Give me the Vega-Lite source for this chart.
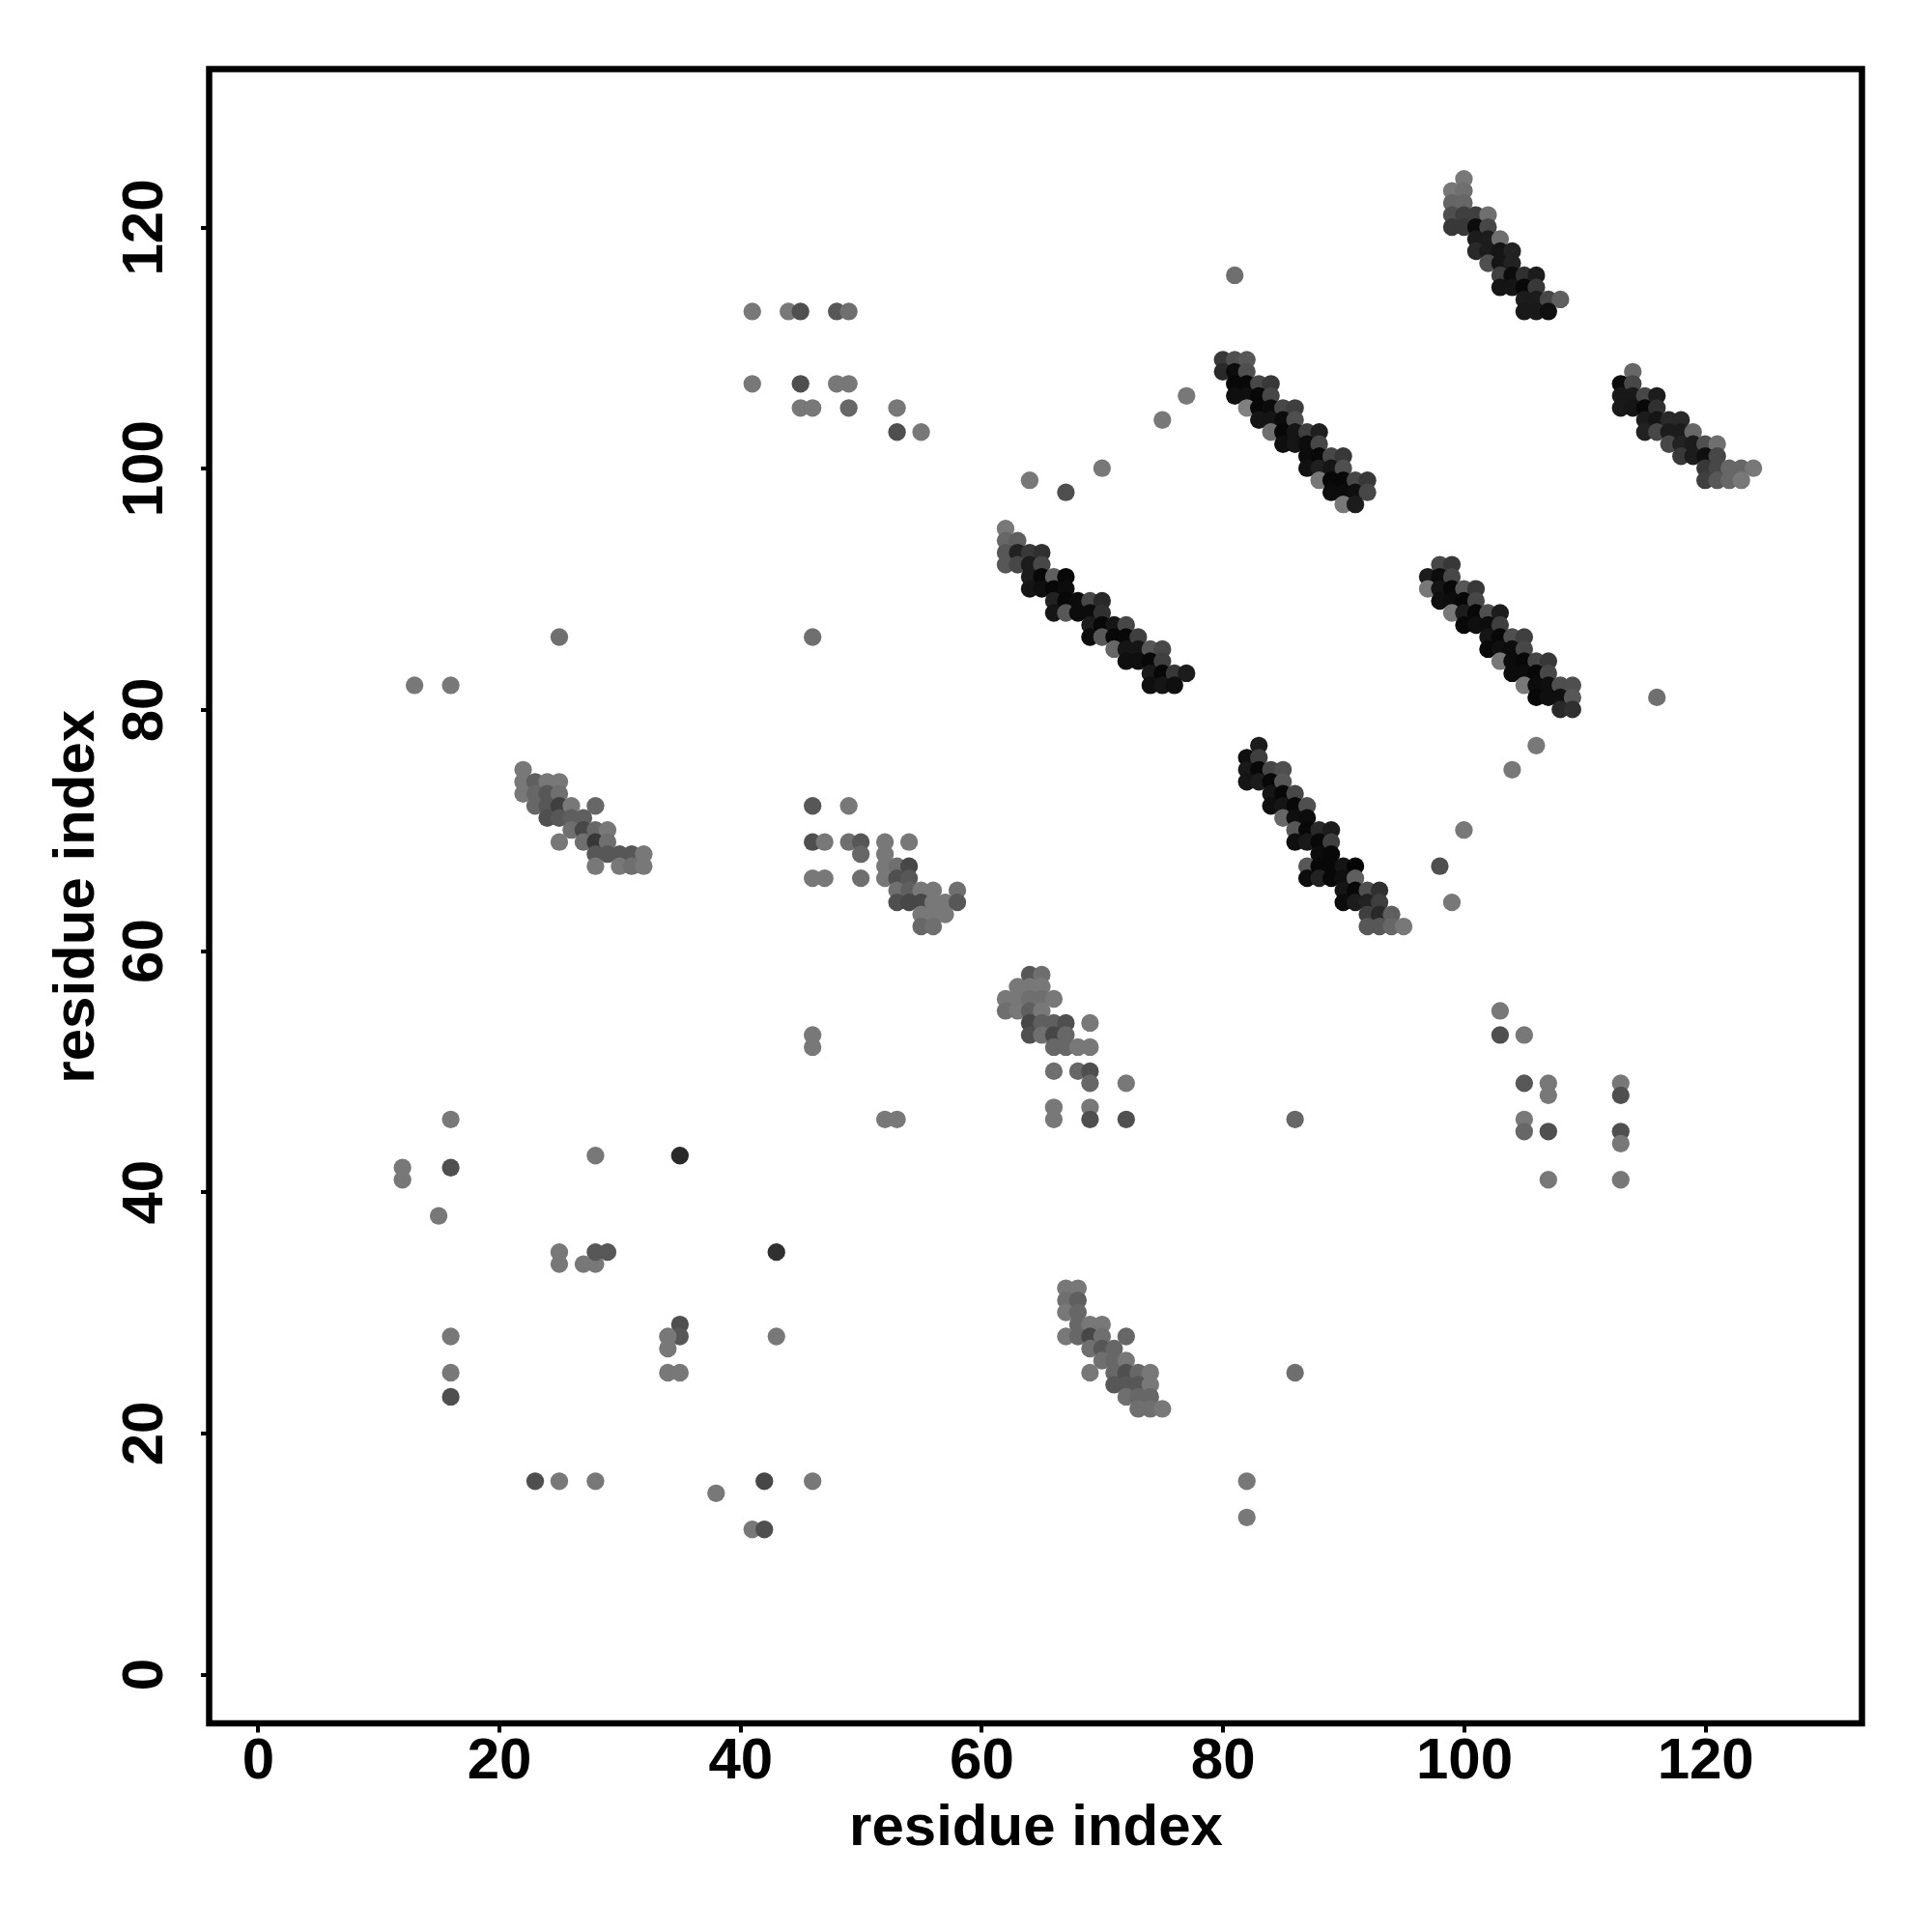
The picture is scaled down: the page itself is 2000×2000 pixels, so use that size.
{"$schema":"https://vega.github.io/schema/vega-lite/v6.json","width":1711,"height":1712.5,"autosize":"none","padding":{"left":216.5,"top":71.5,"right":72.5,"bottom":216},"background":"white","config":{"view":{"stroke":"#000000","strokeWidth":6.5,"fill":"white"}},
"data":{"values":[
{"i":100,"j":124,"s":8},{"i":99,"j":123,"s":8},{"i":100,"j":123,"s":16},{"i":99,"j":122,"s":26},{"i":100,"j":122,"s":24},{"i":99,"j":121,"s":48},{"i":100,"j":121,"s":64},{"i":101,"j":121,"s":64},{"i":102,"j":121,"s":16},{"i":99,"j":120,"s":72},{"i":100,"j":120,"s":72},{"i":101,"j":120,"s":120},{"i":102,"j":120,"s":56},{"i":101,"j":119,"s":104},{"i":102,"j":119,"s":104},{"i":103,"j":119,"s":16},{"i":101,"j":118,"s":88},{"i":102,"j":118,"s":104},{"i":103,"j":118,"s":112},{"i":104,"j":118,"s":96},{"i":102,"j":117,"s":48},{"i":103,"j":117,"s":112},{"i":104,"j":117,"s":96},{"i":103,"j":116,"s":64},{"i":104,"j":116,"s":120},{"i":105,"j":116,"s":80},{"i":106,"j":116,"s":104},{"i":103,"j":115,"s":112},{"i":104,"j":115,"s":112},{"i":105,"j":115,"s":123},{"i":106,"j":115,"s":72},{"i":105,"j":114,"s":104},{"i":106,"j":114,"s":104},{"i":107,"j":114,"s":56},{"i":108,"j":114,"s":32},{"i":105,"j":113,"s":107},{"i":106,"j":113,"s":107},{"i":107,"j":113,"s":118},
{"i":80,"j":109,"s":72},{"i":81,"j":109,"s":48},{"i":82,"j":109,"s":40},{"i":80,"j":108,"s":88},{"i":81,"j":108,"s":120},{"i":82,"j":108,"s":48},{"i":81,"j":107,"s":123},{"i":82,"j":107,"s":123},{"i":83,"j":107,"s":56},{"i":84,"j":107,"s":72},{"i":81,"j":106,"s":118},{"i":82,"j":106,"s":118},{"i":83,"j":106,"s":123},{"i":84,"j":106,"s":56},{"i":82,"j":105,"s":0},{"i":83,"j":105,"s":123},{"i":84,"j":105,"s":120},{"i":85,"j":105,"s":56},{"i":86,"j":105,"s":64},{"i":83,"j":104,"s":112},{"i":84,"j":104,"s":112},{"i":85,"j":104,"s":120},{"i":86,"j":104,"s":48},{"i":84,"j":103,"s":16},{"i":85,"j":103,"s":123},{"i":86,"j":103,"s":112},{"i":87,"j":103,"s":64},{"i":88,"j":103,"s":100},{"i":85,"j":102,"s":118},{"i":86,"j":102,"s":112},{"i":87,"j":102,"s":120},{"i":88,"j":102,"s":56},{"i":87,"j":101,"s":120},{"i":88,"j":101,"s":123},{"i":89,"j":101,"s":56},{"i":90,"j":101,"s":72},{"i":87,"j":100,"s":116},{"i":88,"j":100,"s":100},{"i":89,"j":100,"s":112},{"i":90,"j":100,"s":48},{"i":88,"j":99,"s":8},{"i":89,"j":99,"s":123},{"i":90,"j":99,"s":123},{"i":91,"j":99,"s":56},{"i":92,"j":99,"s":72},{"i":89,"j":98,"s":120},{"i":90,"j":98,"s":120},{"i":91,"j":98,"s":118},{"i":92,"j":98,"s":56},{"i":90,"j":97,"s":8},{"i":91,"j":97,"s":104},
{"i":114,"j":108,"s":24},{"i":113,"j":107,"s":120},{"i":114,"j":107,"s":56},{"i":113,"j":106,"s":107},{"i":114,"j":106,"s":107},{"i":115,"j":106,"s":56},{"i":116,"j":106,"s":102},{"i":113,"j":105,"s":107},{"i":114,"j":105,"s":112},{"i":115,"j":105,"s":123},{"i":116,"j":105,"s":80},{"i":115,"j":104,"s":104},{"i":116,"j":104,"s":112},{"i":117,"j":104,"s":88},{"i":118,"j":104,"s":88},{"i":115,"j":103,"s":96},{"i":116,"j":103,"s":56},{"i":117,"j":103,"s":104},{"i":118,"j":103,"s":104},{"i":119,"j":103,"s":24},{"i":117,"j":102,"s":56},{"i":118,"j":102,"s":96},{"i":119,"j":102,"s":104},{"i":120,"j":102,"s":48},{"i":121,"j":102,"s":16},{"i":118,"j":101,"s":72},{"i":119,"j":101,"s":104},{"i":120,"j":101,"s":118},{"i":121,"j":101,"s":56},{"i":120,"j":100,"s":72},{"i":121,"j":100,"s":56},{"i":122,"j":100,"s":24},{"i":123,"j":100,"s":24},{"i":124,"j":100,"s":8},{"i":120,"j":99,"s":64},{"i":121,"j":99,"s":40},{"i":122,"j":99,"s":24},{"i":123,"j":99,"s":8},
{"i":62,"j":95,"s":8},{"i":62,"j":94,"s":24},{"i":63,"j":94,"s":32},{"i":62,"j":93,"s":40},{"i":63,"j":93,"s":96},{"i":64,"j":93,"s":72},{"i":65,"j":93,"s":80},{"i":62,"j":92,"s":40},{"i":63,"j":92,"s":56},{"i":64,"j":92,"s":104},{"i":65,"j":92,"s":56},{"i":64,"j":91,"s":104},{"i":65,"j":91,"s":123},{"i":66,"j":91,"s":32},{"i":67,"j":91,"s":123},{"i":64,"j":90,"s":112},{"i":65,"j":90,"s":118},{"i":66,"j":90,"s":123},{"i":67,"j":90,"s":120},{"i":66,"j":89,"s":96},{"i":67,"j":89,"s":123},{"i":68,"j":89,"s":120},{"i":69,"j":89,"s":56},{"i":70,"j":89,"s":88},{"i":66,"j":88,"s":112},{"i":67,"j":88,"s":40},{"i":68,"j":88,"s":120},{"i":69,"j":88,"s":120},{"i":70,"j":88,"s":80},{"i":69,"j":87,"s":104},{"i":70,"j":87,"s":123},{"i":71,"j":87,"s":112},{"i":72,"j":87,"s":56},{"i":69,"j":86,"s":120},{"i":70,"j":86,"s":40},{"i":71,"j":86,"s":123},{"i":72,"j":86,"s":123},{"i":73,"j":86,"s":64},{"i":71,"j":85,"s":24},{"i":72,"j":85,"s":112},{"i":73,"j":85,"s":112},{"i":74,"j":85,"s":40},{"i":75,"j":85,"s":56},{"i":72,"j":84,"s":118},{"i":73,"j":84,"s":118},{"i":74,"j":84,"s":123},{"i":75,"j":84,"s":64},{"i":74,"j":83,"s":107},{"i":75,"j":83,"s":123},{"i":76,"j":83,"s":72},{"i":77,"j":83,"s":104},{"i":74,"j":82,"s":118},{"i":75,"j":82,"s":112},{"i":76,"j":82,"s":118},
{"i":98,"j":92,"s":56},{"i":99,"j":92,"s":72},{"i":97,"j":91,"s":104},{"i":98,"j":91,"s":120},{"i":99,"j":91,"s":56},{"i":97,"j":90,"s":8},{"i":98,"j":90,"s":112},{"i":99,"j":90,"s":123},{"i":100,"j":90,"s":40},{"i":101,"j":90,"s":72},{"i":98,"j":89,"s":118},{"i":99,"j":89,"s":120},{"i":100,"j":89,"s":123},{"i":101,"j":89,"s":56},{"i":99,"j":88,"s":8},{"i":100,"j":88,"s":104},{"i":101,"j":88,"s":123},{"i":102,"j":88,"s":48},{"i":103,"j":88,"s":104},{"i":100,"j":87,"s":123},{"i":101,"j":87,"s":118},{"i":102,"j":87,"s":120},{"i":103,"j":87,"s":64},{"i":102,"j":86,"s":112},{"i":103,"j":86,"s":123},{"i":104,"j":86,"s":48},{"i":105,"j":86,"s":64},{"i":102,"j":85,"s":123},{"i":103,"j":85,"s":118},{"i":104,"j":85,"s":120},{"i":105,"j":85,"s":56},{"i":103,"j":84,"s":8},{"i":104,"j":84,"s":120},{"i":105,"j":84,"s":123},{"i":106,"j":84,"s":56},{"i":107,"j":84,"s":72},{"i":104,"j":83,"s":120},{"i":105,"j":83,"s":120},{"i":106,"j":83,"s":123},{"i":107,"j":83,"s":56},{"i":105,"j":82,"s":8},{"i":106,"j":82,"s":120},{"i":107,"j":82,"s":118},{"i":108,"j":82,"s":48},{"i":109,"j":82,"s":48},{"i":106,"j":81,"s":123},{"i":107,"j":81,"s":118},{"i":108,"j":81,"s":118},{"i":109,"j":81,"s":40},{"i":108,"j":80,"s":88},{"i":109,"j":80,"s":80},
{"i":83,"j":77,"s":104},{"i":82,"j":76,"s":118},{"i":83,"j":76,"s":64},{"i":82,"j":75,"s":107},{"i":83,"j":75,"s":123},{"i":84,"j":75,"s":56},{"i":85,"j":75,"s":48},{"i":82,"j":74,"s":112},{"i":83,"j":74,"s":104},{"i":84,"j":74,"s":123},{"i":85,"j":74,"s":40},{"i":84,"j":73,"s":112},{"i":85,"j":73,"s":123},{"i":86,"j":73,"s":56},{"i":84,"j":72,"s":118},{"i":85,"j":72,"s":112},{"i":86,"j":72,"s":123},{"i":87,"j":72,"s":48},{"i":85,"j":71,"s":24},{"i":86,"j":71,"s":118},{"i":87,"j":71,"s":120},{"i":86,"j":70,"s":40},{"i":87,"j":70,"s":123},{"i":88,"j":70,"s":88},{"i":89,"j":70,"s":104},{"i":86,"j":69,"s":118},{"i":87,"j":69,"s":107},{"i":88,"j":69,"s":123},{"i":89,"j":69,"s":64},{"i":88,"j":68,"s":120},{"i":89,"j":68,"s":123},{"i":87,"j":67,"s":40},{"i":88,"j":67,"s":123},{"i":89,"j":67,"s":123},{"i":90,"j":67,"s":112},{"i":91,"j":67,"s":125},{"i":87,"j":66,"s":120},{"i":88,"j":66,"s":96},{"i":89,"j":66,"s":123},{"i":90,"j":66,"s":118},{"i":91,"j":66,"s":32},{"i":90,"j":65,"s":112},{"i":91,"j":65,"s":123},{"i":92,"j":65,"s":48},{"i":93,"j":65,"s":80},{"i":90,"j":64,"s":120},{"i":91,"j":64,"s":104},{"i":92,"j":64,"s":96},{"i":93,"j":64,"s":64},{"i":92,"j":63,"s":64},{"i":93,"j":63,"s":88},{"i":94,"j":63,"s":32},{"i":92,"j":62,"s":40},{"i":93,"j":62,"s":40},{"i":94,"j":62,"s":24},{"i":95,"j":62,"s":8},
{"i":22,"j":75,"s":8},{"i":22,"j":74,"s":8},{"i":23,"j":74,"s":32},{"i":24,"j":74,"s":8},{"i":25,"j":74,"s":8},{"i":22,"j":73,"s":8},{"i":23,"j":73,"s":24},{"i":24,"j":73,"s":40},{"i":25,"j":73,"s":16},{"i":23,"j":72,"s":24},{"i":24,"j":72,"s":40},{"i":25,"j":72,"s":64},{"i":26,"j":72,"s":8},{"i":28,"j":72,"s":24},{"i":24,"j":71,"s":48},{"i":25,"j":71,"s":40},{"i":26,"j":71,"s":32},{"i":27,"j":71,"s":32},{"i":26,"j":70,"s":16},{"i":27,"j":70,"s":56},{"i":28,"j":70,"s":24},{"i":29,"j":70,"s":8},{"i":25,"j":69,"s":8},{"i":27,"j":69,"s":16},{"i":28,"j":69,"s":72},{"i":29,"j":69,"s":16},{"i":28,"j":68,"s":40},{"i":29,"j":68,"s":40},{"i":30,"j":68,"s":40},{"i":31,"j":68,"s":40},{"i":32,"j":68,"s":8},{"i":28,"j":67,"s":8},{"i":30,"j":67,"s":8},{"i":31,"j":67,"s":16},{"i":32,"j":67,"s":8},
{"i":46,"j":72,"s":40},{"i":49,"j":72,"s":8},{"i":46,"j":69,"s":48},{"i":47,"j":69,"s":8},{"i":49,"j":69,"s":16},{"i":50,"j":69,"s":40},{"i":52,"j":69,"s":8},{"i":54,"j":69,"s":8},{"i":50,"j":68,"s":24},{"i":52,"j":68,"s":8},{"i":52,"j":67,"s":8},{"i":53,"j":67,"s":16},{"i":54,"j":67,"s":56},{"i":46,"j":66,"s":8},{"i":47,"j":66,"s":8},{"i":50,"j":66,"s":16},{"i":52,"j":66,"s":8},{"i":53,"j":66,"s":48},{"i":54,"j":66,"s":40},{"i":53,"j":65,"s":16},{"i":54,"j":65,"s":32},{"i":55,"j":65,"s":8},{"i":56,"j":65,"s":8},{"i":58,"j":65,"s":16},{"i":53,"j":64,"s":48},{"i":54,"j":64,"s":56},{"i":55,"j":64,"s":56},{"i":56,"j":64,"s":8},{"i":57,"j":64,"s":8},{"i":58,"j":64,"s":40},{"i":55,"j":63,"s":8},{"i":56,"j":63,"s":8},{"i":57,"j":63,"s":8},{"i":55,"j":62,"s":24},{"i":56,"j":62,"s":16},
{"i":64,"j":58,"s":40},{"i":65,"j":58,"s":16},{"i":63,"j":57,"s":8},{"i":64,"j":57,"s":8},{"i":65,"j":57,"s":8},{"i":62,"j":56,"s":8},{"i":63,"j":56,"s":8},{"i":64,"j":56,"s":16},{"i":65,"j":56,"s":16},{"i":66,"j":56,"s":8},{"i":62,"j":55,"s":16},{"i":63,"j":55,"s":8},{"i":64,"j":55,"s":32},{"i":65,"j":55,"s":8},{"i":64,"j":54,"s":56},{"i":65,"j":54,"s":32},{"i":66,"j":54,"s":32},{"i":67,"j":54,"s":48},{"i":69,"j":54,"s":8},{"i":64,"j":53,"s":48},{"i":65,"j":53,"s":16},{"i":66,"j":53,"s":56},{"i":67,"j":53,"s":24},{"i":66,"j":52,"s":24},{"i":67,"j":52,"s":24},{"i":68,"j":52,"s":8},{"i":69,"j":52,"s":8},{"i":66,"j":50,"s":16},{"i":68,"j":50,"s":24},{"i":69,"j":50,"s":48},{"i":69,"j":49,"s":24},{"i":72,"j":49,"s":8},{"i":66,"j":47,"s":8},{"i":69,"j":47,"s":8},{"i":66,"j":46,"s":8},{"i":69,"j":46,"s":48},{"i":72,"j":46,"s":48},
{"i":67,"j":32,"s":8},{"i":68,"j":32,"s":8},{"i":67,"j":31,"s":16},{"i":68,"j":31,"s":32},{"i":67,"j":30,"s":8},{"i":68,"j":30,"s":24},{"i":68,"j":29,"s":24},{"i":69,"j":29,"s":8},{"i":70,"j":29,"s":8},{"i":67,"j":28,"s":8},{"i":68,"j":28,"s":24},{"i":69,"j":28,"s":56},{"i":70,"j":28,"s":16},{"i":72,"j":28,"s":24},{"i":69,"j":27,"s":16},{"i":70,"j":27,"s":40},{"i":71,"j":27,"s":24},{"i":70,"j":26,"s":16},{"i":71,"j":26,"s":24},{"i":72,"j":26,"s":8},{"i":69,"j":25,"s":8},{"i":71,"j":25,"s":24},{"i":72,"j":25,"s":48},{"i":73,"j":25,"s":24},{"i":74,"j":25,"s":8},{"i":71,"j":24,"s":40},{"i":72,"j":24,"s":40},{"i":73,"j":24,"s":40},{"i":74,"j":24,"s":8},{"i":72,"j":23,"s":16},{"i":73,"j":23,"s":24},{"i":74,"j":23,"s":24},{"i":73,"j":22,"s":16},{"i":74,"j":22,"s":16},{"i":75,"j":22,"s":8},
{"i":13,"j":82,"s":8},{"i":16,"j":82,"s":8},{"i":25,"j":86,"s":16},{"i":46,"j":86,"s":16},{"i":41,"j":113,"s":8},{"i":44,"j":113,"s":8},{"i":45,"j":113,"s":48},{"i":48,"j":113,"s":40},{"i":49,"j":113,"s":16},{"i":41,"j":107,"s":8},{"i":45,"j":107,"s":48},{"i":48,"j":107,"s":8},{"i":49,"j":107,"s":8},{"i":45,"j":105,"s":8},{"i":46,"j":105,"s":8},{"i":49,"j":105,"s":24},{"i":53,"j":105,"s":8},{"i":53,"j":103,"s":48},{"i":55,"j":103,"s":8},{"i":81,"j":116,"s":16},{"i":77,"j":106,"s":8},{"i":75,"j":104,"s":8},{"i":64,"j":99,"s":8},{"i":67,"j":98,"s":48},{"i":70,"j":100,"s":8},{"i":98,"j":67,"s":48},{"i":99,"j":64,"s":8},{"i":100,"j":70,"s":8},{"i":104,"j":75,"s":8},{"i":106,"j":77,"s":8},{"i":116,"j":81,"s":16},{"i":103,"j":55,"s":8},{"i":103,"j":53,"s":48},{"i":105,"j":53,"s":8},{"i":105,"j":49,"s":40},{"i":107,"j":49,"s":8},{"i":107,"j":48,"s":8},{"i":105,"j":46,"s":8},{"i":105,"j":45,"s":24},{"i":107,"j":45,"s":48},{"i":107,"j":41,"s":8},{"i":113,"j":49,"s":8},{"i":113,"j":48,"s":48},{"i":113,"j":45,"s":48},{"i":113,"j":44,"s":8},{"i":113,"j":41,"s":8},{"i":46,"j":53,"s":8},{"i":46,"j":52,"s":8},{"i":52,"j":46,"s":8},{"i":53,"j":46,"s":8},{"i":86,"j":46,"s":24},{"i":12,"j":42,"s":8},{"i":12,"j":41,"s":8},{"i":16,"j":46,"s":8},{"i":16,"j":42,"s":48},{"i":15,"j":38,"s":8},{"i":28,"j":43,"s":8},{"i":35,"j":43,"s":88},{"i":25,"j":35,"s":8},{"i":25,"j":34,"s":8},{"i":27,"j":34,"s":8},{"i":28,"j":34,"s":8},{"i":28,"j":35,"s":40},{"i":29,"j":35,"s":40},{"i":43,"j":35,"s":80},{"i":16,"j":28,"s":8},{"i":16,"j":25,"s":8},{"i":16,"j":23,"s":48},{"i":35,"j":29,"s":48},{"i":35,"j":28,"s":40},{"i":34,"j":28,"s":8},{"i":34,"j":27,"s":8},{"i":34,"j":25,"s":8},{"i":35,"j":25,"s":8},{"i":43,"j":28,"s":8},{"i":23,"j":16,"s":48},{"i":25,"j":16,"s":8},{"i":28,"j":16,"s":8},{"i":38,"j":15,"s":8},{"i":41,"j":12,"s":8},{"i":42,"j":12,"s":48},{"i":42,"j":16,"s":56},{"i":46,"j":16,"s":8},{"i":82,"j":16,"s":8},{"i":82,"j":13,"s":8},{"i":86,"j":25,"s":16}
]},
"mark":{"type":"point","shape":"circle","filled":true,"opacity":1,"size":335,"strokeWidth":0},
"encoding":{
"x":{"field":"i","type":"quantitative","scale":{"domain":[-4.03,133],"nice":false,"zero":false},"axis":{"title":"residue index","values":[0,20,40,60,80,100,120],"grid":false,"domain":false,"ticks":true,"tickSize":9,"tickWidth":4,"tickColor":"#000000","labelFont":"Liberation Sans","labelFontWeight":"bold","labelFontSize":60,"labelColor":"#000000","labelPadding":0,"labelFlush":false,"labelOverlap":false,"titleFont":"Liberation Sans","titleFontWeight":"bold","titleFontSize":60,"titleColor":"#000000","titlePadding":10}},
"y":{"field":"j","type":"quantitative","scale":{"domain":[-4.08,133.1],"nice":false,"zero":false},"axis":{"title":"residue index","values":[0,20,40,60,80,100,120],"grid":false,"domain":false,"ticks":true,"tickSize":9,"tickWidth":4,"tickColor":"#000000","labelFont":"Liberation Sans","labelFontWeight":"bold","labelFontSize":60,"labelColor":"#000000","labelAngle":270,"labelAlign":"center","labelBaseline":"bottom","labelPadding":27,"labelFlush":false,"labelOverlap":false,"titleFont":"Liberation Sans","titleFontWeight":"bold","titleFontSize":60,"titleColor":"#000000","titlePadding":10}},
"color":{"field":"s","type":"quantitative","scale":{"domain":[0,128],"range":["#808080","#000000"]},"legend":null},
"order":[{"field":"i","type":"quantitative"},{"field":"j","type":"quantitative"}]
}}
